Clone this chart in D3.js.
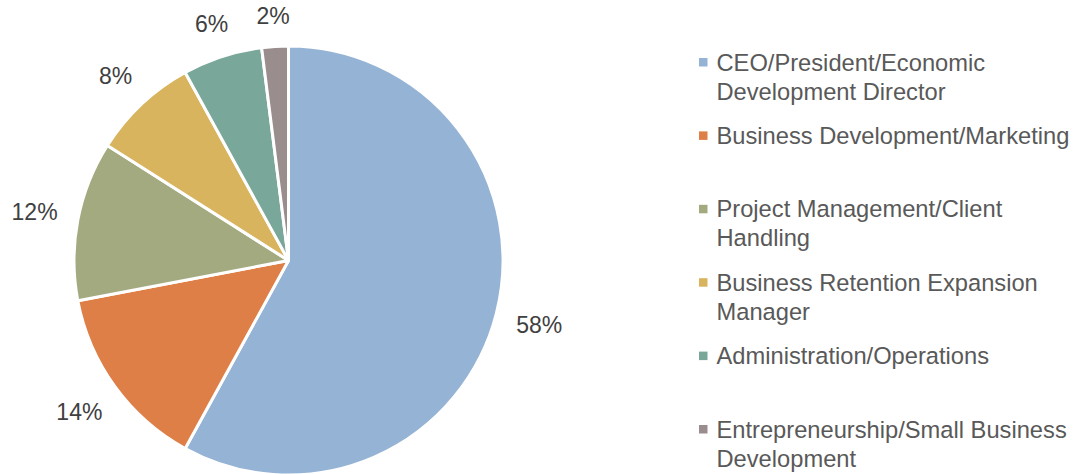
<!DOCTYPE html>
<html>
<head>
<meta charset="utf-8">
<script src="https://cdn.jsdelivr.net/npm/d3@7"></script>
<style>
  html, body { margin: 0; padding: 0; background: #fff; }
  svg { display: block; font-family: "Liberation Sans", Arial, sans-serif; }
</style>
</head>
<body>
<svg id="chart" width="1077" height="474"></svg>
<script>
// Role categories, their shares (%) and slice colours
const categories = [
  "CEO/President/Economic Development Director",
  "Business Development/Marketing",
  "Project Management/Client Handling",
  "Business Retention Expansion Manager",
  "Administration/Operations",
  "Entrepreneurship/Small Business Development"
];
const legendLines = [
  ["CEO/President/Economic", "Development Director"],
  ["Business Development/Marketing"],
  ["Project Management/Client", "Handling"],
  ["Business Retention Expansion", "Manager"],
  ["Administration/Operations"],
  ["Entrepreneurship/Small Business", "Development"]
];
const values = [58, 14, 12, 8, 6, 2];
const colors = ["#95B3D5", "#DD7F47", "#A4AA80", "#D9B45F", "#79A79A", "#9A8D8D"];

const svg = d3.select("#chart");
const cx = 288.5, cy = 260.5, radius = 214.5;

const data = categories.map((c, i) => ({ name: c, value: values[i], color: colors[i] }));

const pie = d3.pie().sort(null).value(d => d.value);
const arc = d3.arc().innerRadius(0).outerRadius(radius);
const arcs = pie(data);

const g = svg.append("g").attr("transform", `translate(${cx},${cy})`);

g.selectAll("path.slice")
  .data(arcs)
  .join("path")
  .attr("class", "slice")
  .attr("d", arc)
  .attr("fill", d => d.data.color)
  .attr("stroke", "#fff")
  .attr("stroke-width", 3)
  .attr("stroke-linejoin", "round");

// Percentage labels placed just outside the rim; the offset grows with
// the half-extent of the text box in the direction of the slice
const labelRadius = radius + 19.5;
const glyphHalfH = 10;
g.selectAll("text.pct")
  .data(arcs)
  .join("text")
  .attr("class", "pct")
  .attr("font-size", 23)
  .attr("fill", "#404040")
  .attr("text-anchor", "middle")
  .attr("dominant-baseline", "central")
  .text(d => d.data.value + "%")
  .each(function (d) {
    const a = (d.startAngle + d.endAngle) / 2;
    const sx = Math.sin(a), sy = -Math.cos(a);
    const w = this.getComputedTextLength();
    const dist = labelRadius + Math.abs(sx) * w / 2 + Math.abs(sy) * glyphHalfH;
    d3.select(this).attr("x", sx * dist).attr("y", sy * dist);
  });

// Legend
const legendX = 699, legendY0 = 62.5, legendStep = 73.4, lineH = 29;
const legend = svg.append("g");
const items = legend.selectAll("g.item")
  .data(data)
  .join("g")
  .attr("class", "item")
  .attr("transform", (d, i) => `translate(${legendX},${legendY0 + i * legendStep})`);

items.append("rect")
  .attr("x", 0).attr("y", -4.5)
  .attr("width", 8.5).attr("height", 8.5)
  .attr("fill", d => d.color);

items.append("text")
  .attr("x", 17.5)
  .attr("font-size", 23.7)
  .attr("fill", "#595959")
  .attr("dominant-baseline", "central")
  .selectAll("tspan")
  .data((d, i) => legendLines[i])
  .join("tspan")
  .attr("x", 17.5)
  .attr("dy", (t, j) => j === 0 ? 0 : lineH)
  .text(t => t);
</script>
</body>
</html>
